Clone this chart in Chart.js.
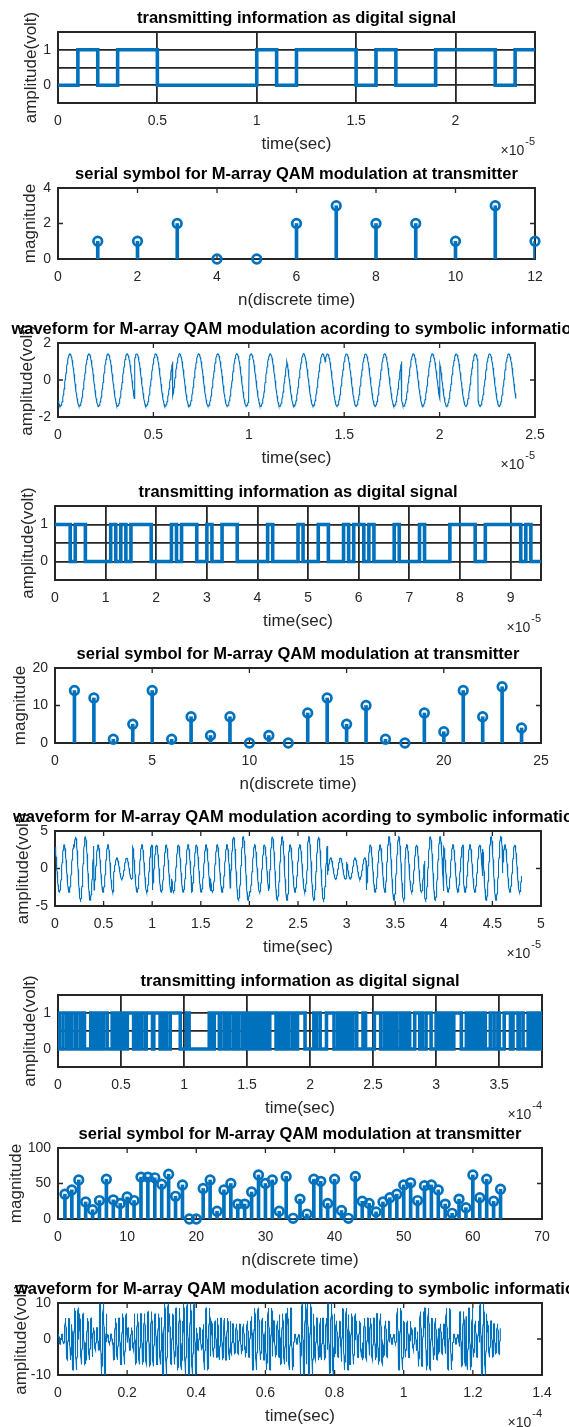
<!DOCTYPE html>
<html>
<head>
<meta charset="utf-8">
<script src="https://cdn.jsdelivr.net/npm/chart.js@4.4.1/dist/chart.umd.min.js"></script>
<style>
  html, body { margin: 0; padding: 0; background: #fff; }
  #fig { position: relative; width: 569px; height: 1427px; overflow: hidden; background: #fff; }
  #fig canvas { position: absolute; left: 0; }
</style>
</head>
<body>
<div id="fig"></div>
<script>
// ▰▰▰▰▰▰▰▰▰▰▰▰▰▰▰▰▰ DATA ▰▰▰▰▰▰▰▰▰▰▰▰▰▰▰▰▰
// serial symbols for M = 4, 16, 64
const symbols_m4 = [1, 1, 2, 0, 0, 2, 3, 2, 2, 1, 3, 1];

const symbols_m16 = [14, 12, 1, 5, 14, 1, 7, 2, 7, 0, 2, 0,
                     8, 12, 5, 10, 1, 0, 8, 3, 14, 7, 15, 4];

const symbols_m64 = [35, 41, 55, 24, 13, 26, 56, 27, 22, 31,
                     26, 59, 59, 58, 49, 63, 32, 48, 0, 0,
                     43, 55, 11, 41, 50, 21, 21, 38, 62, 50,
                     55, 11, 60, 1, 28, 7, 56, 53, 22, 56,
                     12, 1, 60, 25, 22, 10, 24, 30, 35, 48,
                     51, 26, 47, 48, 41, 21, 8, 28, 16, 62,
                     30, 56, 25, 42];

const bit_period = 1e-6;               // Tb
const symbol_period = 2 * bit_period;  // sp, same for every M in the original script
const samples_per_symbol = 100;

// tick values (time axes are in units of the exponent shown under the axis)
const ticks_bits_m4 = [0, 0.5, 1, 1.5, 2];
const ticks_wave_m4 = [0, 0.5, 1, 1.5, 2, 2.5];
const ticks_sym_m4 = [0, 2, 4, 6, 8, 10, 12];
const ticks_bits_m16 = [0, 1, 2, 3, 4, 5, 6, 7, 8, 9];
const ticks_sym_m16 = [0, 5, 10, 15, 20, 25];
const ticks_wave_m16 = [0, 0.5, 1, 1.5, 2, 2.5, 3, 3.5, 4, 4.5, 5];
const ticks_bits_m64 = [0, 0.5, 1, 1.5, 2, 2.5, 3, 3.5];
const ticks_sym_m64 = [0, 10, 20, 30, 40, 50, 60, 70];
const ticks_wave_m64 = [0, 0.2, 0.4, 0.6, 0.8, 1, 1.2, 1.4];

const ticks_amp_bits = [0, 0.5, 1];
const labels_amp_bits = ["0", "", "1"];

// ▰▰▰▰▰▰▰▰▰▰▰▰▰▰▰▰▰ helpers ▰▰▰▰▰▰▰▰▰▰▰▰▰▰▰▰▰
const blue = "#0072BD";
const axis_color = "#262626";
const font_family = "'Liberation Sans', Arial, Helvetica, sans-serif";

// symbol -> binary (MSB first), like dec2bin in the script
function to_bits(symbols, nbit) {
  const bits = [];
  symbols.forEach(s => {
    for (let b = nbit - 1; b >= 0; b--) bits.push((s >> b) & 1);
  });
  return bits;
}

// digital signal: one step per bit (value holds from the point to the next one)
function digital_points(bits) {
  const pts = bits.map((b, i) => ({ x: i * bit_period, y: b }));
  pts.push({ x: bits.length * bit_period, y: bits[bits.length - 1] });
  return pts;
}

// qammod (binary mapping) + carrier, f = 2 / sp
function qam_waveform(symbols, M) {
  const side = Math.sqrt(M);
  const pts = [];
  symbols.forEach((s, k) => {
    const re = -(side - 1) + 2 * Math.floor(s / side);
    const im = (side - 1) - 2 * (s % side);
    for (let j = 1; j <= samples_per_symbol; j++) {
      const ph = 2 * Math.PI * 2 * j / samples_per_symbol;
      pts.push({
        x: (k * samples_per_symbol + j) * symbol_period / samples_per_symbol,
        y: re * Math.cos(ph) + im * Math.sin(ph),
      });
    }
  });
  return pts;
}

function stem_points(symbols) {
  return symbols.map((v, i) => ({ x: i + 1, y: v }));
}

function fmt(n) {
  return String(+n.toFixed(4));
}

// box, inward ticks and MATLAB style texts
const matlab_axes = {
  id: "matlab_axes",
  beforeDatasetsDraw(chart, args, o) {
    const { ctx, chartArea: a } = chart;
    const sx = chart.scales.x, sy = chart.scales.y;
    ctx.save();
    ctx.strokeStyle = axis_color;
    if (!o.grid) {
      ctx.lineWidth = 1.3;
      ctx.beginPath();
      sx.ticks.forEach(t => {
        const px = sx.getPixelForValue(t.value);
        ctx.moveTo(px, a.bottom); ctx.lineTo(px, a.bottom - 5);
        ctx.moveTo(px, a.top); ctx.lineTo(px, a.top + 5);
      });
      sy.ticks.forEach(t => {
        const py = sy.getPixelForValue(t.value);
        ctx.moveTo(a.left, py); ctx.lineTo(a.left + 5, py);
        ctx.moveTo(a.right, py); ctx.lineTo(a.right - 5, py);
      });
      ctx.stroke();
    }
    ctx.lineWidth = 2;
    ctx.strokeRect(a.left, a.top, a.width, a.height);
    ctx.restore();
  },
  afterDraw(chart, args, o) {
    const { ctx, chartArea: a } = chart;
    const cx = (a.left + a.right) / 2;
    ctx.save();
    ctx.textBaseline = "middle";

    ctx.fillStyle = axis_color;
    ctx.font = "17px " + font_family;
    ctx.textAlign = "center";
    ctx.fillText(o.xlabel, cx, a.bottom + 41);

    ctx.save();
    ctx.translate(o.ylabel_x, (a.top + a.bottom) / 2);
    ctx.rotate(-Math.PI / 2);
    ctx.fillText(o.ylabel, 0, 0);
    ctx.restore();

    if (o.exponent) {
      ctx.font = "11px " + font_family;
      const w2 = ctx.measureText(o.exponent).width;
      ctx.textAlign = "left";
      ctx.fillText(o.exponent, a.right - w2, a.bottom + 39);
      ctx.font = "14px " + font_family;
      ctx.textAlign = "right";
      ctx.fillText("\u00d710", a.right - w2 - 1, a.bottom + 48);
    }

    ctx.fillStyle = "#000";
    ctx.font = "bold 16.5px " + font_family;
    ctx.textAlign = "center";
    ctx.fillText(o.title, cx, a.top - 14);
    ctx.restore();
  },
};

const PAD_TOP = 28;
const PAD_BOTTOM = 52;
const fig = document.getElementById("fig");

function make_panel(p) {
  const canvas = document.createElement("canvas");
  const h = p.box[1] - p.box[0] + PAD_TOP + PAD_BOTTOM;
  canvas.width = 569;
  canvas.height = h;
  canvas.style.width = "569px";
  canvas.style.height = h + "px";
  canvas.style.top = (p.box[0] - PAD_TOP) + "px";
  fig.appendChild(canvas);

  const tick_font = { family: font_family, size: 14 };
  const grid = p.grid
    ? { color: axis_color, lineWidth: 1.8, drawTicks: false }
    : { display: false, drawTicks: false };

  return new Chart(canvas, {
    type: "scatter",
    data: { datasets: p.datasets },
    options: {
      responsive: false,
      animation: false,
      devicePixelRatio: 1,
      events: [],
      layout: { padding: { left: 0, right: 569 - p.xs[1], top: PAD_TOP, bottom: 0 } },
      plugins: {
        legend: { display: false },
        tooltip: { enabled: false },
        title: { display: false },
        matlab_axes: {
          grid: p.grid, title: p.title, xlabel: p.xlabel, ylabel: p.ylabel,
          ylabel_x: p.ylabel_x, exponent: p.exponent,
        },
      },
      scales: {
        x: {
          type: "linear",
          min: p.x_range[0],
          max: p.x_range[1],
          offset: false,
          afterBuildTicks: ax => { ax.ticks = p.x_ticks.map(v => ({ value: v * p.x_mult })); },
          afterFit: s => { s.height = PAD_BOTTOM; },
          ticks: {
            callback: v => fmt(v / p.x_mult),
            font: tick_font, color: axis_color, padding: 10,
            maxRotation: 0, autoSkip: false,
          },
          grid: grid,
          border: { display: false },
        },
        y: {
          type: "linear",
          min: p.y_range[0],
          max: p.y_range[1],
          afterBuildTicks: ax => { ax.ticks = p.y_ticks.map(v => ({ value: v })); },
          afterFit: s => { s.width = p.xs[0]; },
          ticks: {
            callback: (v, i) => (p.y_labels ? p.y_labels[i] : fmt(v)),
            font: tick_font, color: axis_color, padding: 7, autoSkip: false,
          },
          grid: grid,
          border: { display: false },
        },
      },
    },
    plugins: [matlab_axes],
  });
}

function digital_dataset(bits) {
  return [{
    data: digital_points(bits),
    showLine: true, stepped: "before",
    borderColor: blue, borderWidth: 3.6, pointRadius: 0,
    borderJoinStyle: "miter",
  }];
}

function stem_datasets(symbols) {
  return [
    {
      type: "bar", data: stem_points(symbols),
      backgroundColor: blue, borderWidth: 0, barThickness: 3, order: 2,
    },
    {
      type: "scatter", data: stem_points(symbols),
      pointRadius: 4.3, borderWidth: 2.7, borderColor: blue,
      backgroundColor: "rgba(0,0,0,0)", clip: false, order: 1,
    },
  ];
}

function wave_dataset(symbols, M) {
  return [{
    data: qam_waveform(symbols, M),
    showLine: true, borderColor: blue, borderWidth: 1.1, pointRadius: 0,
  }];
}

const t_digital = "transmitting information as digital signal";
const t_serial = "serial symbol for M-array QAM modulation at transmitter";
const t_wave = "waveform for M-array QAM modulation acording to symbolic information";

const bits_m4 = to_bits(symbols_m4, 2);
const bits_m16 = to_bits(symbols_m16, 4);
const bits_m64 = to_bits(symbols_m64, 6);

const panels = [
  // ---- M = 4 ----
  { box: [32, 103], xs: [58, 535], grid: true, datasets: digital_dataset(bits_m4),
    x_range: [0, bits_m4.length * bit_period], x_ticks: ticks_bits_m4, x_mult: 1e-5, exponent: "-5",
    y_range: [-0.5, 1.5], y_ticks: ticks_amp_bits, y_labels: labels_amp_bits,
    title: t_digital, xlabel: "time(sec)", ylabel: "amplitude(volt)", ylabel_x: 31 },
  { box: [188, 259], xs: [58, 535], grid: false, datasets: stem_datasets(symbols_m4),
    x_range: [0, 12], x_ticks: ticks_sym_m4, x_mult: 1,
    y_range: [0, 4], y_ticks: [0, 2, 4],
    title: t_serial, xlabel: "n(discrete time)", ylabel: "magnitude", ylabel_x: 30 },
  { box: [343, 417], xs: [58, 535], grid: false, datasets: wave_dataset(symbols_m4, 4),
    x_range: [0, 2.5e-5], x_ticks: ticks_wave_m4, x_mult: 1e-5, exponent: "-5",
    y_range: [-2, 2], y_ticks: [-2, 0, 2],
    title: t_wave, xlabel: "time(sec)", ylabel: "amplitude(volt)", ylabel_x: 27 },
  // ---- M = 16 ----
  { box: [506, 580], xs: [55, 541], grid: true, datasets: digital_dataset(bits_m16),
    x_range: [0, bits_m16.length * bit_period], x_ticks: ticks_bits_m16, x_mult: 1e-5, exponent: "-5",
    y_range: [-0.5, 1.5], y_ticks: ticks_amp_bits, y_labels: labels_amp_bits,
    title: t_digital, xlabel: "time(sec)", ylabel: "amplitude(volt)", ylabel_x: 28 },
  { box: [668, 743], xs: [55, 541], grid: false, datasets: stem_datasets(symbols_m16),
    x_range: [0, 25], x_ticks: ticks_sym_m16, x_mult: 1,
    y_range: [0, 20], y_ticks: [0, 10, 20],
    title: t_serial, xlabel: "n(discrete time)", ylabel: "magnitude", ylabel_x: 20 },
  { box: [831, 906], xs: [55, 541], grid: false, datasets: wave_dataset(symbols_m16, 16),
    x_range: [0, 5e-5], x_ticks: ticks_wave_m16, x_mult: 1e-5, exponent: "-5",
    y_range: [-5, 5], y_ticks: [-5, 0, 5],
    title: t_wave, xlabel: "time(sec)", ylabel: "amplitude(volt)", ylabel_x: 23 },
  // ---- M = 64 ----
  { box: [995, 1067], xs: [58, 542], grid: true, datasets: digital_dataset(bits_m64),
    x_range: [0, bits_m64.length * bit_period], x_ticks: ticks_bits_m64, x_mult: 1e-4, exponent: "-4",
    y_range: [-0.5, 1.5], y_ticks: ticks_amp_bits, y_labels: labels_amp_bits,
    title: t_digital, xlabel: "time(sec)", ylabel: "amplitude(volt)", ylabel_x: 30 },
  { box: [1148, 1219], xs: [58, 542], grid: false, datasets: stem_datasets(symbols_m64),
    x_range: [0, 70], x_ticks: ticks_sym_m64, x_mult: 1,
    y_range: [0, 100], y_ticks: [0, 50, 100],
    title: t_serial, xlabel: "n(discrete time)", ylabel: "magnitude", ylabel_x: 16 },
  { box: [1303, 1375], xs: [58, 542], grid: false, datasets: wave_dataset(symbols_m64, 64),
    x_range: [0, 1.4e-4], x_ticks: ticks_wave_m64, x_mult: 1e-4, exponent: "-4",
    y_range: [-10, 10], y_ticks: [-10, 0, 10],
    title: t_wave, xlabel: "time(sec)", ylabel: "amplitude(volt)", ylabel_x: 21 },
];

panels.forEach(make_panel);
</script>
</body>
</html>
